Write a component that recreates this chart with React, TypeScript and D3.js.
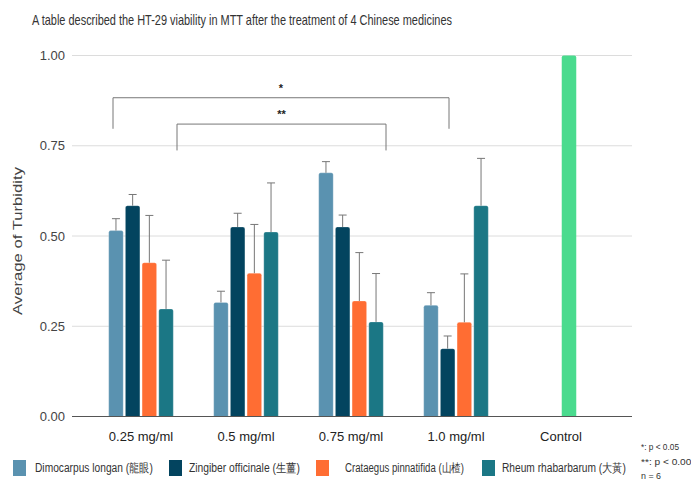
import React from "react";
import * as d3 from "d3";

const categories = ["0.25 mg/ml", "0.5 mg/ml", "0.75 mg/ml", "1.0 mg/ml", "Control"];
const seriesNames = [
  "Dimocarpus longan (龍眼)",
  "Zingiber officinale (生薑)",
  "Crataegus pinnatifida (山楂)",
  "Rheum rhabarbarum (大黃)",
];
const seriesColors = ["#5a92b0", "#03445f", "#ff6d33", "#1b7785"];
const dimocarpus = [0.515, 0.316, 0.675, 0.308];
const zingiber = [0.584, 0.525, 0.525, 0.188];
const crataegus = [0.426, 0.397, 0.32, 0.261];
const rheum = [0.298, 0.511, 0.262, 0.584];
const dimocarpusErr = [0.033, 0.031, 0.031, 0.035];
const zingiberErr = [0.031, 0.038, 0.033, 0.035];
const crataegusErr = [0.131, 0.135, 0.134, 0.134];
const rheumErr = [0.135, 0.136, 0.134, 0.131];
const controlValue = 1.0;
const controlColor = "#4adb8e";
const yTicks = [0, 0.25, 0.5, 0.75, 1.0];
const notes = ["*: p < 0.05", "**: p < 0.001", "n = 6"];

const W = 691;
const H = 482;
const font = "Liberation Sans, Arial, sans-serif";

function topRounded(x: number, y: number, w: number, h: number, r: number) {
  const rr = Math.min(r, h / 2, w / 2);
  return `M${x},${y + h}V${y + rr}Q${x},${y} ${x + rr},${y}H${x + w - rr}Q${x + w},${y} ${x + w},${y + rr}V${y + h}Z`;
}

export default function App() {
  const y = d3.scaleLinear().domain([0, 1]).range([416.5, 55.5]);
  const x = d3.scaleBand<string>().domain(categories).range([88.5, 613.5]).padding(0);
  const inner = d3.scaleBand<number>().domain([0, 1, 2, 3]).range([-32.3, 32.3]).paddingInner(0.13);
  const gridX0 = 72;
  const gridX1 = 632;
  const values = [dimocarpus, zingiber, crataegus, rheum];
  const errs = [dimocarpusErr, zingiberErr, crataegusErr, rheumErr];
  const cx = (c: string) => (x(c) as number) + x.bandwidth() / 2;
  const bw = inner.bandwidth();

  const brackets = [
    { label: "*", from: [0, -28], to: [3, -7], top: 0.883, bottom: 0.797 },
    { label: "**", from: [0, 36], to: [2, 35], top: 0.81, bottom: 0.737 },
  ];

  const legendItems = [
    { sx: 13, tx: 35, tl: 118 },
    { sx: 169, tx: 189, tl: 111 },
    { sx: 316, tx: 345, tl: 119 },
    { sx: 482, tx: 502, tl: 124 },
  ];
  const noteWidths = [38, 56, 20];

  return (
    <svg width={W} height={H} style={{ position: "absolute", left: 0, top: 0, background: "#fff" }} fontFamily={font}>
      <rect width={W} height={H} fill="#fff" />
      <text x={32} y={25} fontSize={14.5} fill="#333" textLength={420} lengthAdjust="spacingAndGlyphs">
        A table described the HT-29 viability in MTT after the treatment of 4 Chinese medicines
      </text>

      {yTicks.map((t) => (
        <g key={t}>
          {t !== 0 && <line x1={gridX0} x2={gridX1} y1={y(t)} y2={y(t)} stroke="#dcdcdc" strokeWidth={1} />}
          <text x={65} y={y(t)} dy="0.35em" textAnchor="end" fontSize={13} fill="#444">
            {t.toFixed(2)}
          </text>
        </g>
      ))}

      <text
        transform={`translate(17,${241}) rotate(-90)`}
        textAnchor="middle"
        dy="0.35em"
        fontSize={13}
        fill="#444"
        textLength={148}
        lengthAdjust="spacingAndGlyphs"
      >
        Average of Turbidity
      </text>

      {values.map((vals, si) =>
        vals.map((v, ci) => {
          const bx = cx(categories[ci]) + (inner(si) as number);
          const top = y(v);
          return (
            <path
              key={`b${si}-${ci}`}
              d={topRounded(bx, top, bw, y(0) - top, 2)}
              fill={seriesColors[si]}
              stroke="#ffffff"
              strokeOpacity={0.5}
              strokeWidth={0.5}
            />
          );
        })
      )}

      {values.map((vals, si) =>
        vals.map((v, ci) => {
          const ex = cx(categories[ci]) + (inner(si) as number) + bw / 2;
          const yt = y(v + errs[si][ci]);
          return (
            <g key={`e${si}-${ci}`} stroke="#777" strokeWidth={1}>
              <line x1={ex} x2={ex} y1={y(v)} y2={yt} />
              <line x1={ex - 4} x2={ex + 4} y1={yt} y2={yt} />
            </g>
          );
        })
      )}

      {(() => {
        const bx = cx("Control") + 8 - bw / 2;
        const top = y(controlValue);
        return <path d={topRounded(bx, top, bw, y(0) - top, 2)} fill={controlColor} />;
      })()}

      <line x1={gridX0} x2={gridX1} y1={y(0)} y2={y(0)} stroke="#555" strokeWidth={1.2} />

      {categories.map((c) => (
        <text key={c} x={cx(c)} y={436} dy="0.35em" textAnchor="middle" fontSize={13} fill="#222">
          {c}
        </text>
      ))}

      {brackets.map((b) => {
        const x1 = cx(categories[b.from[0]]) + b.from[1];
        const x2 = cx(categories[b.to[0]]) + b.to[1];
        return (
          <g key={b.label}>
            <path
              d={`M${x1},${y(b.bottom)}V${y(b.top)}H${x2}V${y(b.bottom)}`}
              fill="none"
              stroke="#777"
              strokeWidth={1}
            />
            <text x={(x1 + x2) / 2} y={y(b.top) - 10} dy="0.35em" textAnchor="middle" fontSize={11} fontWeight="bold" fill="#222">
              {b.label}
            </text>
          </g>
        );
      })}

      {seriesNames.map((n, i) => (
        <g key={n}>
          <rect x={legendItems[i].sx} y={460} width={13} height={16} fill={seriesColors[i]} />
          <text
            x={legendItems[i].tx}
            y={468}
            dy="0.35em"
            fontSize={12}
            fill="#333"
            textLength={legendItems[i].tl}
            lengthAdjust="spacingAndGlyphs"
          >
            {n}
          </text>
        </g>
      ))}

      {notes.map((n, i) => (
        <text key={n} x={641} y={447 + i * 14.5} dy="0.35em" fontSize={9} fill="#333" textLength={noteWidths[i]} lengthAdjust="spacingAndGlyphs">
          {n}
        </text>
      ))}
    </svg>
  );
}
